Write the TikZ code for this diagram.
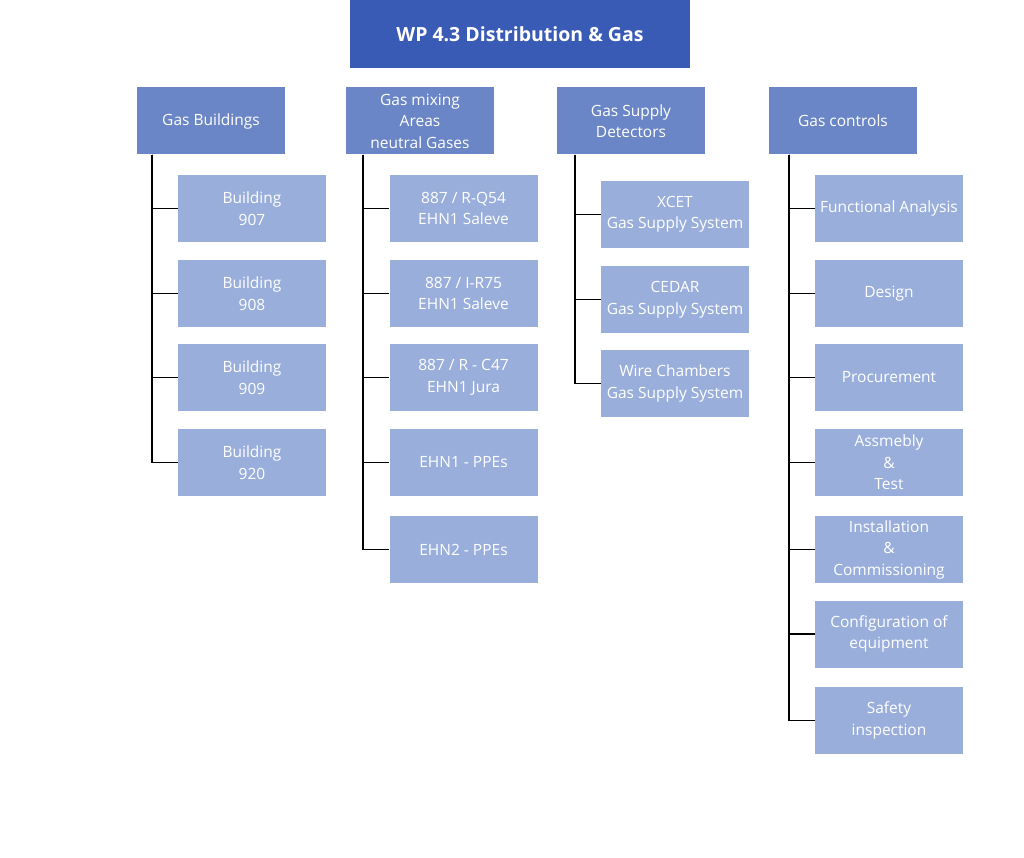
\documentclass[tikz,border=0pt]{standalone}
\usepackage{fontspec}
\setmainfont{Open Sans}
\usetikzlibrary{positioning}
\definecolor{wptop}{RGB}{58,91,181}
\definecolor{wpmid}{RGB}{107,134,198}
\definecolor{wplow}{RGB}{154,174,219}
\begin{document}
\begin{tikzpicture}[x=1pt,y=-1pt]%
        \useasboundingbox (0,0) rectangle (1024,858); %%
        \tikzstyle{every node}=[align=center,text=white,inner sep=0pt] %%
        \node[fill=wptop,minimum width=340pt,minimum height=68pt,font=\fontsize{19.5}{23}\selectfont\bfseries] (wp) at (520,34) {WP 4.3 Distribution \& Gas}; %%
        \begin{scope}[every node/.append style={fill=wpmid,minimum width=148pt,minimum height=67pt,font=\fontsize{15.5}{21.5}\selectfont}]
        \node (gb) at (211,121) {Gas Buildings}; %%
        \node (gm) at (420,121) {Gas mixing\\Areas\\neutral Gases}; %%
        \node (gs) at (631,121) {Gas Supply\\Detectors}; %%
        \node (gc) at (843,121) {Gas controls}; %%
        \end{scope}%
        \begin{scope}[every node/.append style={fill=wplow,minimum width=148pt,minimum height=67pt,font=\fontsize{15.5}{21.5}\selectfont}]
        \node (b907) at (252,208.5)  {Building\\907}; %%
        \node (b908) at (252,293.5)  {Building\\908}; %%
        \node (b909) at (252,377.5)  {Building\\909}; %%
        \node (b920) at (252,462.5)  {Building\\920}; %%
        \node (q54) at (463.5,208.5)  {887 / R-Q54\\EHN1 Saleve}; %%
        \node (r75) at (463.5,293.5)  {887 / I-R75\\EHN1 Saleve}; %%
        \node (c47) at (463.5,377.5)  {887 / R - C47\\EHN1 Jura}; %%
        \node (ppe1) at (463.5,462.5)  {EHN1 - PPEs}; %%
        \node (ppe2) at (463.5,549.5)  {EHN2 - PPEs}; %%
        \node (xcet) at (675,214.5)  {XCET\\Gas Supply System}; %%
        \node (cedar) at (675,299.5)  {CEDAR\\Gas Supply System}; %%
        \node (wire) at (675,383.5)  {Wire Chambers\\Gas Supply System}; %%
        \node (fa) at (889,208.5)  {Functional Analysis}; %%
        \node (des) at (889,293.5)  {Design}; %%
        \node (proc) at (889,377.5)  {Procurement}; %%
        \node (asm) at (889,462.5)  {Assmebly\\\&\\Test}; %%
        \node (inst) at (889,549.5)  {Installation\\\&\\Commissioning}; %%
        \node (conf) at (889,634)  {Configuration of\\equipment}; %%
        \node (safe) at (889,720.5)  {Safety\\inspection}; %%
        \end{scope}
        \tikzstyle{every path}=[line width=1.6pt,black] %%
        \draw (gb.south west) ++(15,0) |- (b907.west); %%
        \draw (gb.south west) ++(15,0) |- (b908.west); %%
        \draw (gb.south west) ++(15,0) |- (b909.west); %%
        \draw (gb.south west) ++(15,0) |- (b920.west); %%
        \draw (gm.south west) ++(17,0) |- (q54.west); %%
        \draw (gm.south west) ++(17,0) |- (r75.west); %%
        \draw (gm.south west) ++(17,0) |- (c47.west); %%
        \draw (gm.south west) ++(17,0) |- (ppe1.west); %%
        \draw (gm.south west) ++(17,0) |- (ppe2.west); %%
        \draw (gs.south west) ++(18,0) |- (xcet.west); %%
        \draw (gs.south west) ++(18,0) |- (cedar.west); %%
        \draw (gs.south west) ++(18,0) |- (wire.west); %%
        \draw (gc.south west) ++(20,0) |- (fa.west); %%
        \draw (gc.south west) ++(20,0) |- (des.west); %%
        \draw (gc.south west) ++(20,0) |- (proc.west); %%
        \draw (gc.south west) ++(20,0) |- (asm.west); %%
        \draw (gc.south west) ++(20,0) |- (inst.west); %%
        \draw (gc.south west) ++(20,0) |- (conf.west); %%
        \draw (gc.south west) ++(20,0) |- (safe.west); %%
\end{tikzpicture}
\end{document}
